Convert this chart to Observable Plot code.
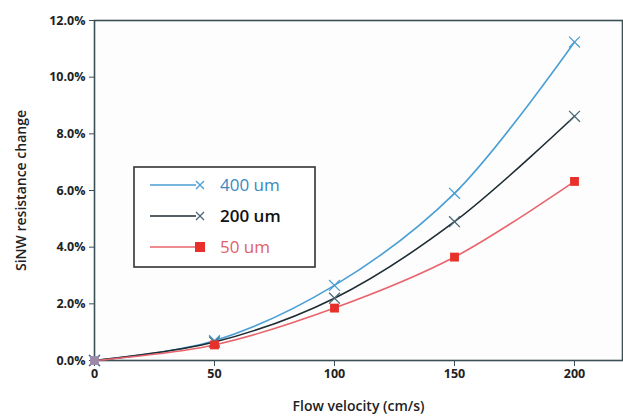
<!DOCTYPE html>
<html><head><meta charset="utf-8">
<script src="https://cdn.jsdelivr.net/npm/d3@7"></script>
<script src="https://cdn.jsdelivr.net/npm/@observablehq/plot@0.6"></script>
<style>body{margin:0;background:#fff;font-family:"Open Sans",sans-serif}</style>
</head><body><div id="chart"></div>
<script>
const velocities = [0, 50, 100, 150, 200];
const series = ["400 um", "200 um", "50 um"];
const values400 = [0, 0.0070, 0.0265, 0.0590, 0.1124];
const values200 = [0, 0.0065, 0.0220, 0.0490, 0.0862];
const values50  = [0, 0.0055, 0.0185, 0.0365, 0.0632];
const colors = {"400 um": "#4a9fd4", "200 um": "#1d2d33", "50 um": "#e8656d"};
const markerColors = {"400 um": "#4a9fd4", "200 um": "#4a6a7a", "50 um": "#e8302a"};
const xTicks = [0, 50, 100, 150, 200];
const yTicks = [0, 0.02, 0.04, 0.06, 0.08, 0.10, 0.12];

const data = [];
[[series[0], values400], [series[1], values200], [series[2], values50]].forEach(([s, vals]) =>
  vals.forEach((v, i) => data.push({series: s, v: velocities[i], r: v})));

const plot = Plot.plot({
  width: 623, height: 420,
  marginLeft: 94, marginRight: 1, marginTop: 20, marginBottom: 60,
  style: {fontFamily: "Open Sans, sans-serif", background: "#fff"},
  x: {domain: [0, 220], ticks: xTicks, tickSize: 6, label: "Flow velocity (cm/s)", labelAnchor: "center", labelOffset: 50, labelArrow: "none"},
  y: {domain: [0, 0.12], ticks: yTicks, tickFormat: d3.format(".1%"), tickSize: 5, label: "SiNW resistance change", labelAnchor: "center", labelOffset: 78, labelArrow: "none"},
  marks: [
    Plot.frame({stroke: "#3c4f57", strokeWidth: 1.6, fill: "#fdfdfd"}),
    Plot.line(data, {x: "v", y: "r", z: "series", stroke: d => colors[d.series], strokeWidth: 1.6, curve: "catmull-rom"}),
    Plot.dot(data.filter(d => d.series !== "50 um"), {x: "v", y: "r", symbol: "times", r: 5, stroke: d => markerColors[d.series], strokeWidth: 1.3}),
    Plot.dot(data.filter(d => d.series === "50 um"), {x: "v", y: "r", symbol: "square", r: 5, fill: d => d.v === 0 ? "#9a8aa8" : markerColors[d.series]})
  ]
});
document.getElementById("chart").appendChild(plot);

const svg = d3.select(plot);
svg.selectAll("[aria-label='x-axis tick label'] text, [aria-label='y-axis tick label'] text")
  .style("font-size", "12.5px").style("font-weight", "700").style("fill", "#222");
svg.selectAll("[aria-label='x-axis label'] text, [aria-label='y-axis label'] text")
  .style("font-size", "14px").style("font-weight", "600").style("fill", "#222");
svg.selectAll("[aria-label='x-axis tick'] path, [aria-label='y-axis tick'] path").attr("stroke", "#3c4f57");

// legend
const lg = svg.append("g").attr("text-anchor", "start");
lg.append("rect").attr("x", 134).attr("y", 167).attr("width", 181).attr("height", 100)
  .attr("fill", "#fff").attr("stroke", "#333").attr("stroke-width", 1.6);
const textColors = {"400 um": "#3a88c0", "200 um": "#111", "50 um": "#e0606a"};
series.forEach((s, i) => {
  const y = 185 + i * 31;
  lg.append("line").attr("x1", 150).attr("x2", 196).attr("y1", y).attr("y2", y)
    .attr("stroke", colors[s]).attr("stroke-width", 1.6);
  if (s === "50 um") {
    lg.append("rect").attr("x", 195).attr("y", y - 5).attr("width", 10).attr("height", 10).attr("fill", markerColors[s]);
  } else {
    lg.append("path").attr("d", `M${196},${y-4}l8,8M${196},${y+4}l8,-8`).attr("stroke", markerColors[s]).attr("stroke-width", 1.3).attr("fill", "none");
  }
  lg.append("text").attr("x", 220).attr("y", y).attr("dy", "0.35em").attr("text-anchor", "start")
    .attr("fill", textColors[s]).style("font-size", "17px").style("font-weight", s === "200 um" ? "600" : "400")
    .text(s);
});
</script></body></html>
